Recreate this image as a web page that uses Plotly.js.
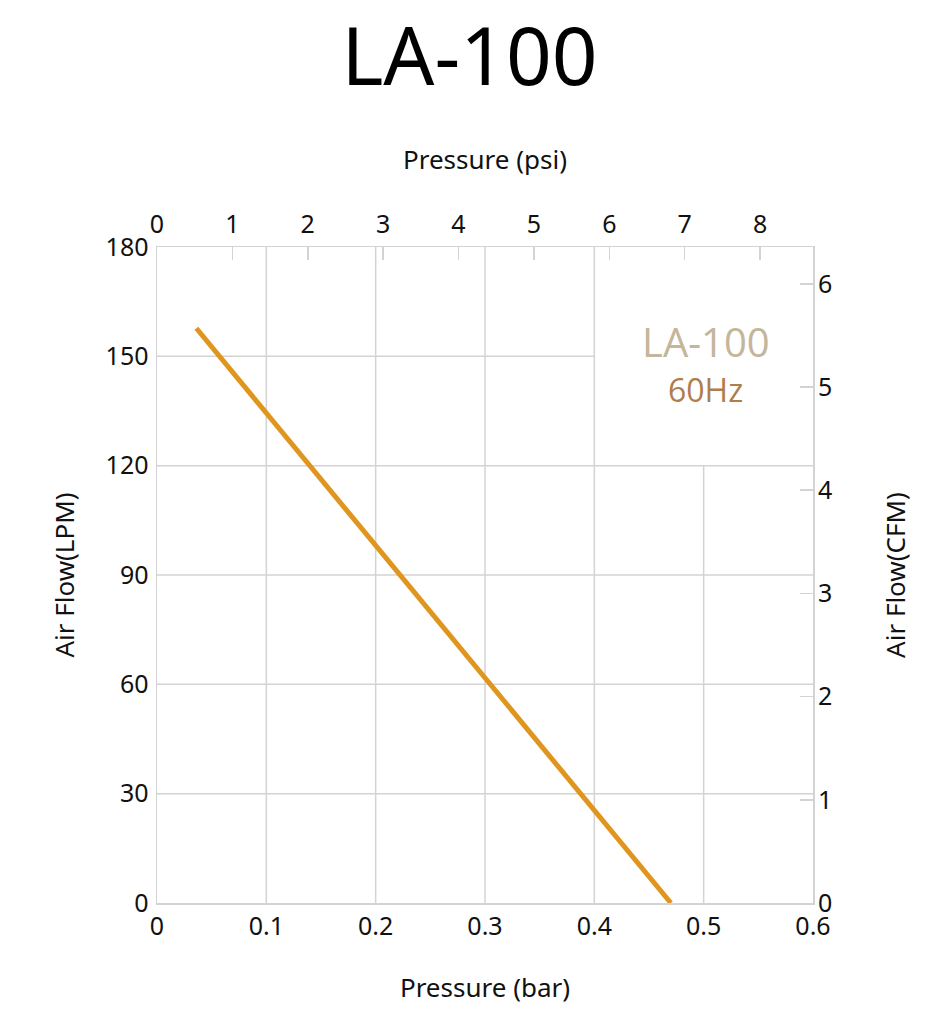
<!DOCTYPE html>
<html>
<head>
<meta charset="utf-8">
<script src="https://cdn.plot.ly/plotly-3.0.1.min.js"></script>
<style>
  html, body { margin: 0; padding: 0; background: #fff; }
  #chart { width: 939px; height: 1024px; }
</style>
</head>
<body>
<div id="chart"></div>
<script>
// == данные ==
const pressureBar = [0.036, 0.47];
const airflowLpm = [157.7, 0];

// сетка: полные линии и укороченные (оставляют место под подпись)
const gridBarFull = [0.1, 0.2, 0.3, 0.4];
const gridBarShort = [0.5];      // только до 120 LPM
const gridLpmFull = [30, 60, 90, 120];
const gridLpmShort = [150];      // только до 0.4 bar

const BAR_MAX = 0.6;
const LPM_MAX = 180;
const PSI_PER_BAR = 14.5038;
const LPM_PER_CFM = 28.3168;

const FONT = '"Noto Sans", sans-serif';
const GRID = '#d3d3d3';

const shapes = [];
gridBarFull.forEach(v => shapes.push({ type: 'line', xref: 'x', yref: 'y', x0: v, x1: v, y0: 0, y1: LPM_MAX }));
gridBarShort.forEach(v => shapes.push({ type: 'line', xref: 'x', yref: 'y', x0: v, x1: v, y0: 0, y1: 120 }));
gridLpmFull.forEach(v => shapes.push({ type: 'line', xref: 'x', yref: 'y', x0: 0, x1: BAR_MAX, y0: v, y1: v }));
gridLpmShort.forEach(v => shapes.push({ type: 'line', xref: 'x', yref: 'y', x0: 0, x1: 0.4, y0: v, y1: v }));
shapes.forEach(s => { s.layer = 'below'; s.line = { color: GRID, width: 1.5 }; });

const data = [
    {
        x: pressureBar,
        y: airflowLpm,
        type: 'scatter',
        mode: 'lines',
        line: { color: '#e0961e', width: 5 },
        hoverinfo: 'skip',
        showlegend: false,
    },
    {
        // невидимая серия для верхней (psi) и правой (CFM) осей
        x: [0, BAR_MAX * PSI_PER_BAR],
        y: [0, LPM_MAX / LPM_PER_CFM],
        xaxis: 'x2',
        yaxis: 'y2',
        type: 'scatter',
        mode: 'markers',
        marker: { opacity: 0 },
        hoverinfo: 'skip',
        showlegend: false,
    },
];

const tickFont = { family: FONT, size: 25, color: '#111' };
const titleFont = { family: FONT, size: 26, color: '#111' };

const layout = {
    width: 939,
    height: 1024,
    margin: { l: 157, r: 126, t: 247, b: 121 },
    paper_bgcolor: '#fff',
    plot_bgcolor: '#fff',
    title: {
        text: 'LA-100',
        font: { family: FONT, size: 80, color: '#000' },
        x: 0.5, xanchor: 'center',
        y: 0.944, yanchor: 'middle',
    },
    xaxis: {
        range: [0, BAR_MAX],
        dtick: 0.1,
        tick0: 0,
        showgrid: false,
        zeroline: false,
        showline: true,
        linecolor: GRID,
        linewidth: 1.5,
        mirror: true,
        ticks: '',
        tickfont: tickFont,
        title: { text: 'Pressure (bar)', font: titleFont, standoff: 38 },
        fixedrange: true,
    },
    yaxis: {
        range: [0, LPM_MAX],
        dtick: 30,
        tick0: 0,
        showgrid: false,
        zeroline: false,
        showline: true,
        linecolor: GRID,
        linewidth: 1.5,
        mirror: true,
        ticks: '',
        ticklabelstandoff: 2,
        tickfont: tickFont,
        title: { text: 'Air Flow(LPM)', font: titleFont, standoff: 23 },
        fixedrange: true,
    },
    xaxis2: {
        overlaying: 'x',
        side: 'top',
        range: [0, BAR_MAX * PSI_PER_BAR],
        dtick: 1,
        tick0: 0,
        showgrid: false,
        zeroline: false,
        showline: false,
        ticks: 'inside',
        ticklen: 13,
        tickwidth: 1.5,
        tickcolor: GRID,
        ticklabelstandoff: 8,
        tickfont: tickFont,
        title: { text: 'Pressure (psi)', font: titleFont, standoff: 28 },
        fixedrange: true,
    },
    yaxis2: {
        overlaying: 'y',
        side: 'right',
        range: [0, LPM_MAX / LPM_PER_CFM],
        dtick: 1,
        tick0: 0,
        showgrid: false,
        zeroline: false,
        showline: false,
        ticks: 'inside',
        ticklen: 13,
        tickwidth: 1.5,
        tickcolor: GRID,
        ticklabelstandoff: 4,
        tickfont: tickFont,
        title: { text: 'Air Flow(CFM)', font: titleFont, standoff: 55 },
        fixedrange: true,
    },
    shapes: shapes,
    annotations: [
        {
            xref: 'x', yref: 'y', x: 0.502, y: 154.2,
            text: 'LA-100', showarrow: false,
            font: { family: '"Open Sans", sans-serif', size: 40, color: '#c3b69a' },
        },
        {
            xref: 'x', yref: 'y', x: 0.502, y: 141,
            text: '60Hz', showarrow: false,
            font: { family: '"Open Sans", sans-serif', size: 32, color: '#b07d4c' },
        },
    ],
};

const config = { responsive: false, displayModeBar: false, staticPlot: true };

Plotly.newPlot('chart', data, layout, config);
</script>
</body>
</html>
